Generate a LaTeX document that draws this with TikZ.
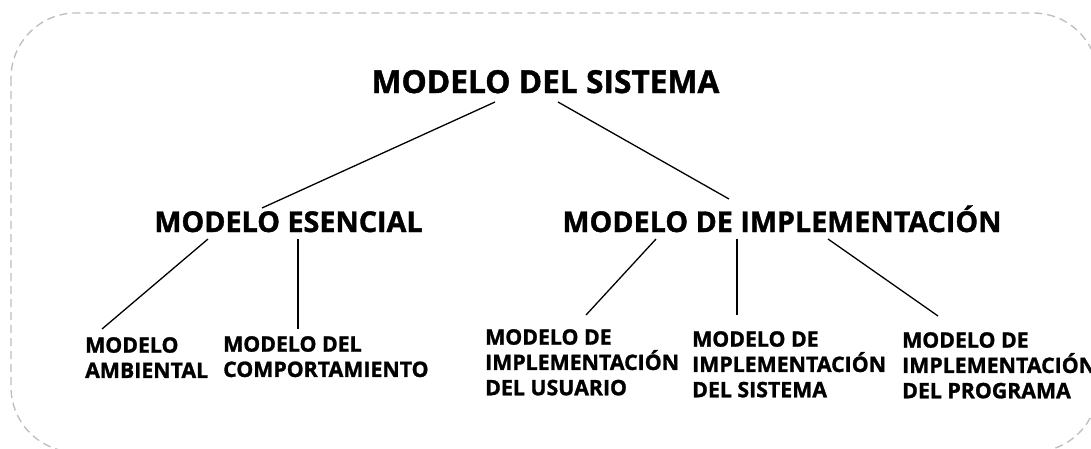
\documentclass[tikz,border=0pt]{standalone}
\usepackage{fontspec}
\setmainfont{Open Sans}[BoldFeatures={FakeBold=1.3}]
\usetikzlibrary{calc}
\definecolor{bordergray}{HTML}{BDBDBD}
\tikzset{
  top/.style={font=\bfseries\fontsize{31.7}{38}\selectfont, inner sep=0pt, anchor=base},
  big/.style={font=\bfseries\fontsize{28.7}{34}\selectfont, inner sep=0pt, anchor=base},
  small/.style={font=\bfseries\fontsize{21.3}{25.3}\selectfont, inner sep=0pt, anchor=north west, align=left},
  link/.style={line width=1.3pt, black},
  frame/.style={bordergray, line width=1.3pt, dash pattern=on 8pt off 5pt, rounded corners=65pt}
}
\begin{document}
\begin{tikzpicture}[x=1pt,y=-1pt]
\useasboundingbox (0,0) rectangle (1091,448);
\clip (0,0) rectangle (1091,448);
\draw[frame] (11,13) rectangle (1098,452);
\node[top] (ms) at (545.5,93) {MODELO DEL SISTEMA};
\node[big] (me) at (288.5,232) {MODELO ESENCIAL};
\node[big] (mi) at (782,232) {MODELO DE IMPLEMENTACIÓN};
\node[small] (amb) at (85,337) {MODELO\\AMBIENTAL};
\node[small] (com) at (223,336) {MODELO DEL\\COMPORTAMIENTO};
\node[small] (usu) at (485,329) {MODELO DE\\IMPLEMENTACIÓN\\DEL USUARIO};
\node[small] (sis) at (692,331) {MODELO DE\\IMPLEMENTACIÓN\\DEL SISTEMA};
\node[small] (pro) at (902,332) {MODELO DE\\IMPLEMENTACIÓN\\DEL PROGRAMA};
\draw[link] ($(ms.base)+(-50.5,9)$) -- ($(me.base)+(-26.5,-24)$);
\draw[link] ($(ms.base)+(12.5,9)$) -- ($(mi.base)+(-53,-33)$);
\draw[link] ($(me.base)+(-80.5,7)$) -- ($(amb.north west)+(17,-8)$);
\draw[link] ($(me.base)+(9.5,7)$) -- ($(com.north west)+(75,-7)$);
\draw[link] ($(mi.base)+(-126,7)$) -- ($(usu.north west)+(101,-14)$);
\draw[link] ($(mi.base)+(-45,7)$) -- ($(sis.north west)+(45,-16)$);
\draw[link] ($(mi.base)+(46,7)$) -- ($(pro.north west)+(36,-16)$);
\end{tikzpicture}
\end{document}
